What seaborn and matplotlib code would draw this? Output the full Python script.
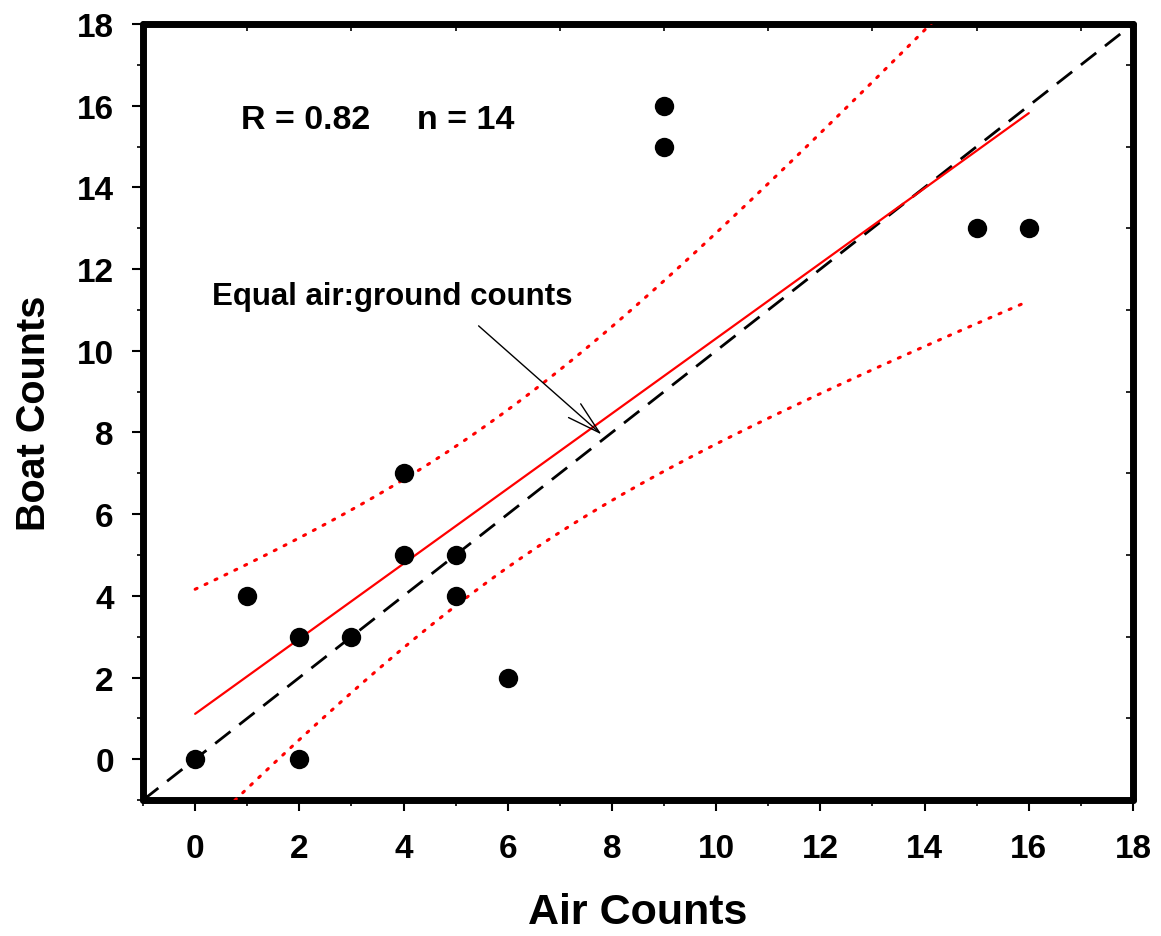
import numpy as np
import pandas as pd
import matplotlib
matplotlib.use("Agg")
import matplotlib.pyplot as plt
import seaborn as sns

# Paired counts from aerial and boat surveys
air_counts = [0, 1, 2, 2, 3, 4, 4, 5, 5, 6, 9, 9, 15, 16]
boat_counts = [0, 4, 3, 0, 3, 7, 5, 5, 4, 2, 16, 15, 13, 13]
x_ticks = [0, 2, 4, 6, 8, 10, 12, 14, 16, 18]
y_ticks = [0, 2, 4, 6, 8, 10, 12, 14, 16, 18]
T_CRIT = 2.179  # two-sided 95% t quantile, 12 degrees of freedom

sns.set_theme(style="ticks")
plt.rcParams["font.family"] = ["Liberation Sans", "DejaVu Sans"]
plt.rcParams["font.weight"] = "bold"
plt.rcParams["text.color"] = "black"
plt.rcParams["axes.labelcolor"] = "black"
plt.rcParams["xtick.color"] = "black"
plt.rcParams["ytick.color"] = "black"

df = pd.DataFrame({"air": air_counts, "boat": boat_counts})

# Least-squares fit with 95% confidence band for the mean response
x = np.asarray(air_counts, float)
y = np.asarray(boat_counts, float)
n = len(x)
slope, intercept = np.polyfit(x, y, 1)
r = np.corrcoef(x, y)[0, 1]
resid = y - (intercept + slope * x)
s = np.sqrt(np.sum(resid ** 2) / (n - 2))
sxx = np.sum((x - x.mean()) ** 2)
xf = np.linspace(x.min(), x.max(), 200)
yf = intercept + slope * xf
half = T_CRIT * s * np.sqrt(1.0 / n + (xf - x.mean()) ** 2 / sxx)
fit = pd.DataFrame({"x": xf, "fit": yf, "lo": yf - half, "hi": yf + half})
diag = pd.DataFrame({"x": [-1, 18], "y": [-1, 18]})

fig = plt.figure(figsize=(11.61, 9.37), dpi=100)
ax = fig.add_axes([0.1232, 0.1451, 0.8527, 0.8282])

sns.lineplot(data=diag, x="x", y="y", ax=ax, color="black", lw=2.0,
             zorder=2).lines[-1].set_dashes([7, 4])
sns.lineplot(data=fit, x="x", y="fit", ax=ax, color="red", lw=1.6, zorder=3)
for col in ["lo", "hi"]:
    line = sns.lineplot(data=fit, x="x", y=col, ax=ax, color="red", lw=2.2,
                        zorder=3).lines[-1]
    line.set_linestyle((0, (0.7, 2.9)))
    line.set_dash_capstyle("round")
sns.scatterplot(data=df, x="air", y="boat", ax=ax, color="black", s=195,
                edgecolor="black", linewidth=0, zorder=4)

ax.set_xlim(-1, 18)
ax.set_ylim(-1, 18)
ax.set_xticks(x_ticks)
ax.set_yticks(y_ticks)
ax.set_xticks(np.arange(-1, 18, 2), minor=True)
ax.set_yticks(np.arange(-1, 18, 2), minor=True)
ax.tick_params(which="major", direction="out", length=8, width=1.5,
               labelsize=24, color="black")
ax.tick_params(axis="x", which="major", pad=16)
ax.tick_params(axis="y", which="major", pad=13)
ax.tick_params(which="minor", direction="out", length=4, width=1.2,
               color="black")
for lab in ax.get_xticklabels() + ax.get_yticklabels():
    lab.set_fontweight("bold")

# Inward minor ticks along the top and right edges
top = ax.secondary_xaxis("top")
top.set_xticks(np.arange(-1, 18, 2))
top.tick_params(direction="in", length=5, width=1.2, labeltop=False)
top.spines["top"].set_visible(False)
right = ax.secondary_yaxis("right")
right.set_yticks(np.arange(-1, 18, 2))
right.tick_params(direction="in", length=5, width=1.2, labelright=False)
right.spines["right"].set_visible(False)

for sp in ax.spines.values():
    sp.set_visible(True)
    sp.set_linewidth(5)
    sp.set_color("black")
    sp.set_capstyle("round")

ax.set_xlabel("Air Counts", fontsize=31, fontweight="bold", labelpad=20)
ax.set_ylabel("Boat Counts", fontsize=28.5, fontweight="bold", labelpad=17)

ax.text(0.88, 15.66, f"R = {r:.2f}", fontsize=24.5,
        fontweight="bold", va="center", ha="left")
ax.text(4.25, 15.66, f"n = {n}", fontsize=24.5,
        fontweight="bold", va="center", ha="left")
ax.text(0.33, 11.33, "Equal air:ground counts", fontsize=22.5,
        fontweight="bold", va="center", ha="left")
ax.annotate("", xy=(7.8, 7.95), xytext=(5.44, 10.61),
            arrowprops=dict(arrowstyle="->,head_length=1.2,head_width=0.33",
                            color="black", lw=1.0, mutation_scale=20,
                            shrinkA=0, shrinkB=0))

fig.savefig("out.png", dpi=100, facecolor="white")
